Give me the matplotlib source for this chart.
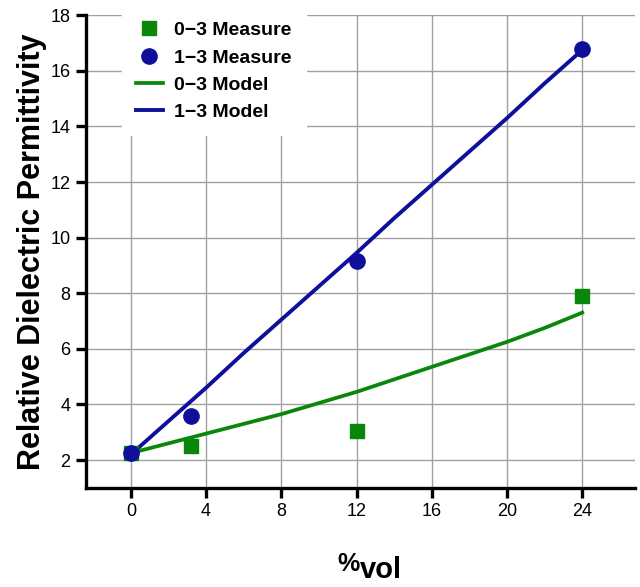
import matplotlib
matplotlib.use('Agg')
import matplotlib.pyplot as plt

plt.rcParams['font.family'] = ['Liberation Sans', 'DejaVu Sans']

# measured points
x_meas = [0, 3.2, 12, 24]
eps_03_meas = [2.25, 2.5, 3.05, 7.9]
eps_13_meas = [2.25, 3.6, 9.15, 16.8]

# model curves
x_model = [0, 2, 4, 6, 8, 10, 12, 14, 16, 18, 20, 22, 24]
eps_03_model = [2.25, 2.6, 2.95, 3.3, 3.65, 4.05, 4.45, 4.9, 5.35, 5.8, 6.25, 6.75, 7.3]
eps_13_model = [2.2, 3.4, 4.6, 5.85, 7.05, 8.25, 9.45, 10.7, 11.9, 13.1, 14.3, 15.55, 16.75]

x_ticks = [0, 4, 8, 12, 16, 20, 24]
y_ticks = [2, 4, 6, 8, 10, 12, 14, 16, 18]

green = '#0a870a'
blue = '#0f0f9c'

fig = plt.figure(figsize=(6.4, 5.87), dpi=100)
ax = fig.add_axes([0.134, 0.169, 0.858, 0.805])

ax.plot(x_meas, eps_03_meas, 's', color=green, markersize=9.5, label='0\u22123 Measure', zorder=4)
ax.plot(x_meas, eps_13_meas, 'o', color=blue, markersize=11, label='1\u22123 Measure', zorder=4)
ax.plot(x_model, eps_03_model, '-', color=green, linewidth=2.7, label='0\u22123 Model', zorder=3)
ax.plot(x_model, eps_13_model, '-', color=blue, linewidth=2.8, label='1\u22123 Model', zorder=3)

ax.set_xlim(-2.4, 26.8)
ax.set_ylim(1.0, 18.0)
ax.set_xticks(x_ticks)
ax.set_yticks(y_ticks)
ax.grid(True, color='#a0a0a0', linewidth=1.0)
ax.set_axisbelow(True)

for s in ['top', 'right']:
    ax.spines[s].set_visible(False)
for s in ['left', 'bottom']:
    ax.spines[s].set_linewidth(2.4)
    ax.spines[s].set_color('black')

ax.tick_params(axis='both', direction='out', length=7, width=2.4, labelsize=13, pad=4)

ax.set_ylabel('Relative Dielectric Permittivity', fontsize=22, fontweight='bold')
ax.yaxis.set_label_coords(-0.07, 0.5)

# x label: raised "%" followed by "vol"
fig.text(360 / 640, 16 / 587, '%', fontsize=18, fontweight='bold', ha='right', va='baseline')
fig.text(360 / 640, 9 / 587, 'vol', fontsize=21, fontweight='bold', ha='left', va='baseline')

leg = ax.legend(loc='upper left', bbox_to_anchor=(122 / 640, 1 - 8 / 587),
                bbox_transform=fig.transFigure, borderaxespad=0, frameon=True,
                prop={'weight': 'bold', 'size': 14}, handlelength=1.4, handletextpad=0.6,
                labelspacing=0.5, borderpad=0.7, fancybox=False)
leg.get_frame().set_edgecolor('white')
leg.get_frame().set_facecolor('white')
leg.get_frame().set_alpha(1.0)

fig.savefig('out.png', dpi=100)
